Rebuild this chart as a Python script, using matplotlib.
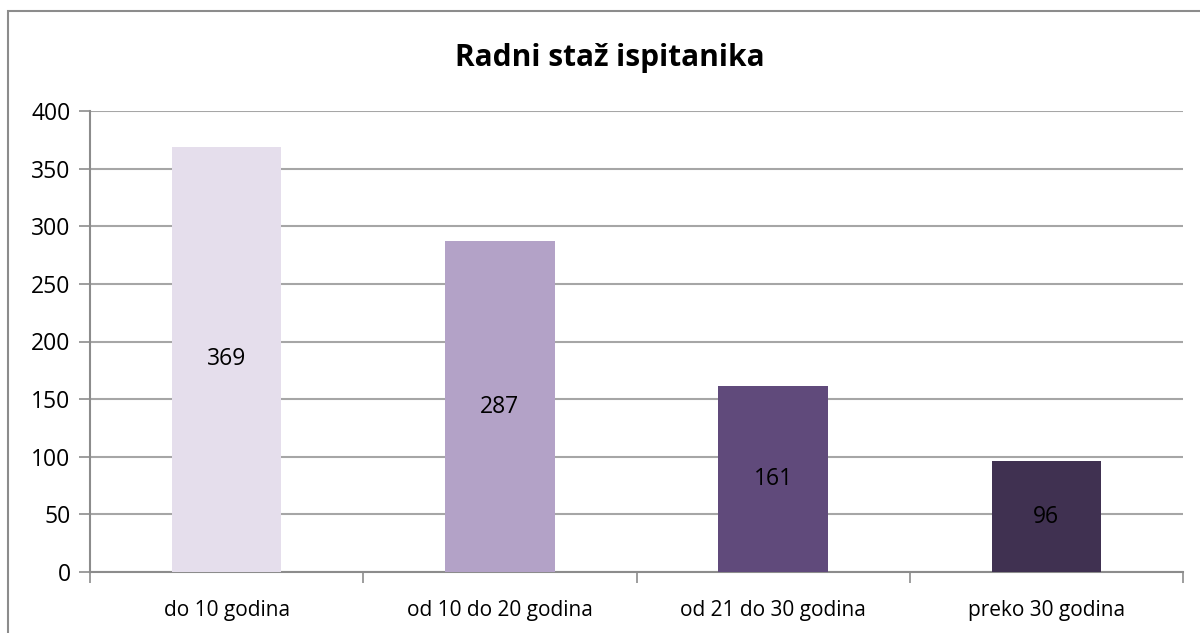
import matplotlib
matplotlib.use("Agg")
from matplotlib import pyplot
from matplotlib.patches import Rectangle

categories = ["do 10 godina", "od 10 do 20 godina", "od 21 do 30 godina", "preko 30 godina"]
values = [369, 287, 161, 96]
colors = ["#E5DEEC", "#B3A2C7", "#604A7B", "#403151"]
yticks = [0, 50, 100, 150, 200, 250, 300, 350, 400]

pyplot.rcParams['font.family'] = ['Open Sans', 'DejaVu Sans']

fig = pyplot.figure(figsize=(12, 6.33), dpi=100)
# outer chart border (right and bottom edges fall off the canvas, like the original)
fig.patches.append(Rectangle((8 / 1200, -3 / 633), 1200 / 1200, 625 / 633,
                             transform=fig.transFigure, fill=False,
                             edgecolor="#8C8C8C", linewidth=1.5))

ax = fig.add_axes([90 / 1200, 61 / 633, 1093 / 1200, 461 / 633])
x = range(len(categories))
bars = ax.bar(x, values, width=0.4, color=colors, zorder=3)
for bar, v in zip(bars, values):
    ax.text(bar.get_x() + bar.get_width() / 2, v / 2, str(v),
            ha='center', va='center', fontsize=16.5, color='black', zorder=4)

ax.set_xlim(-0.5, len(categories) - 0.5)
ax.set_ylim(0, 400)
ax.set_yticks(yticks)
ax.set_yticklabels([str(t) for t in yticks], fontsize=16.5)
ax.tick_params(axis='y', length=8, width=1.2, color='#8C8C8C', pad=6)
ax.yaxis.grid(True, color='#A6A6A6', linewidth=1.5, zorder=0)

ax.set_xticks(list(x))
ax.set_xticklabels(categories, fontsize=15)
ax.tick_params(axis='x', length=0, pad=20)
ax.set_xticks([i - 0.5 for i in range(len(categories) + 1)], minor=True)
ax.tick_params(axis='x', which='minor', length=8, width=1.2, color='#8C8C8C')

for side in ['top', 'right']:
    ax.spines[side].set_visible(False)
for side in ['left', 'bottom']:
    ax.spines[side].set_color('#8C8C8C')
    ax.spines[side].set_linewidth(1.5)

fig.text(610 / 1200, 1 - 58 / 633, "Radni staž ispitanika", ha='center', va='center',
         fontsize=21.5, fontweight='bold')

fig.savefig("out.png", dpi=100)
